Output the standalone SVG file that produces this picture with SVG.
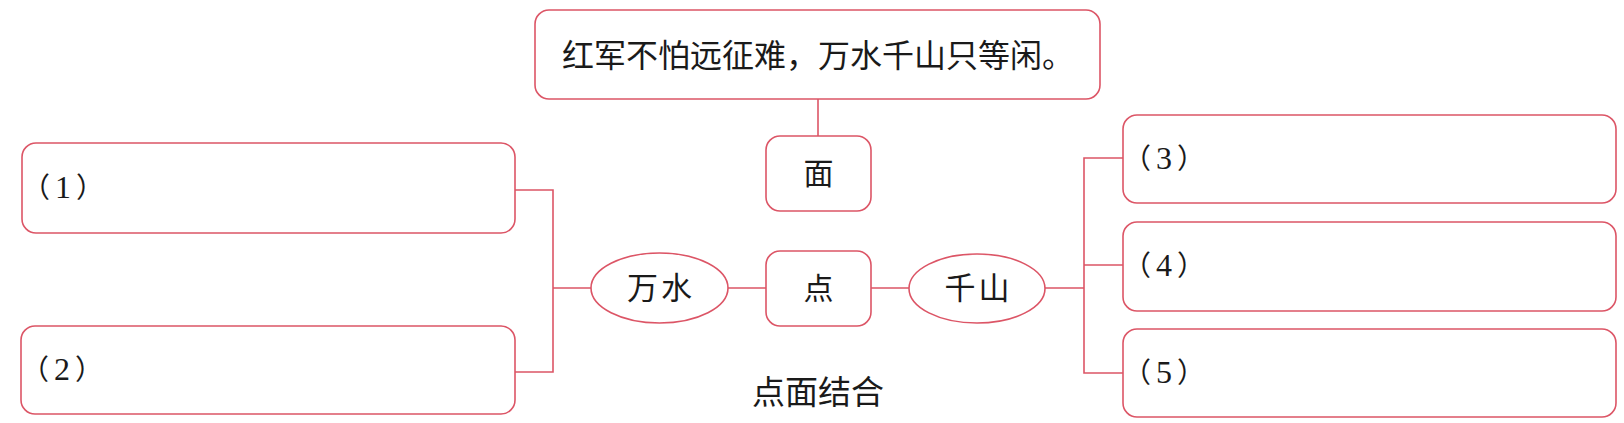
<svg xmlns="http://www.w3.org/2000/svg" width="1624" height="423" viewBox="0 0 1624 423">
<style>
.shape{fill:#ffffff;stroke:#dc5566;stroke-width:1.6}
.conn{fill:none;stroke:#dc5566;stroke-width:1.6}
.t{font-family:"Liberation Serif","Noto Sans CJK SC",serif;fill:#1a1a1a}
.c{text-anchor:middle}
.lbl{font-size:28px;letter-spacing:5px}
.d{font-size:32px}
</style>
<rect width="1624" height="423" fill="#ffffff"/>
<g id="connectors">
<path class="conn" d="M818,99 V136"/>
<path class="conn" d="M515,190 H553 V372 H515 M553,288 H591"/>
<path class="conn" d="M728,288 H766 M871,288 H909"/>
<path class="conn" d="M1045,288 H1084 M1123,158 H1084 V373 H1123 M1084,265 H1123"/>
</g>
<g id="poem">
<rect class="shape" x="535" y="10" width="565" height="89" rx="14"/>
<text class="t c" x="818" y="67" font-size="32">红军不怕远征难，万水千山只等闲。</text>
</g>
<g id="mian">
<rect class="shape" x="766" y="136" width="105" height="75" rx="14"/>
<text class="t c" x="818.5" y="184" font-size="30">面</text>
</g>
<g id="dian">
<rect class="shape" x="766" y="251" width="105" height="75" rx="14"/>
<text class="t c" x="818.5" y="299" font-size="30">点</text>
</g>
<g id="wanshui">
<ellipse class="shape" cx="659.5" cy="288" rx="68.5" ry="35"/>
<text class="t c" x="661" y="299" font-size="31" letter-spacing="3">万水</text>
</g>
<g id="qianshan">
<ellipse class="shape" cx="977" cy="288.5" rx="68" ry="34.5"/>
<text class="t c" x="978.5" y="299" font-size="31" letter-spacing="3">千山</text>
</g>
<g id="box1">
<rect class="shape" x="22" y="143" width="493" height="90" rx="14"/>
<text class="t lbl" x="22" y="198">（<tspan class="d">1</tspan>）</text>
</g>
<g id="box2">
<rect class="shape" x="21" y="326" width="494" height="88" rx="14"/>
<text class="t lbl" x="21" y="380">（<tspan class="d">2</tspan>）</text>
</g>
<g id="box3">
<rect class="shape" x="1123" y="115" width="493" height="88" rx="14"/>
<text class="t lbl" x="1123" y="169">（<tspan class="d">3</tspan>）</text>
</g>
<g id="box4">
<rect class="shape" x="1123" y="222" width="493" height="89" rx="14"/>
<text class="t lbl" x="1123" y="276">（<tspan class="d">4</tspan>）</text>
</g>
<g id="box5">
<rect class="shape" x="1123" y="329" width="493" height="88" rx="14"/>
<text class="t lbl" x="1123" y="383">（<tspan class="d">5</tspan>）</text>
</g>
<g id="caption">
<text class="t c" x="818" y="404" font-size="33">点面结合</text>
</g>
</svg>
